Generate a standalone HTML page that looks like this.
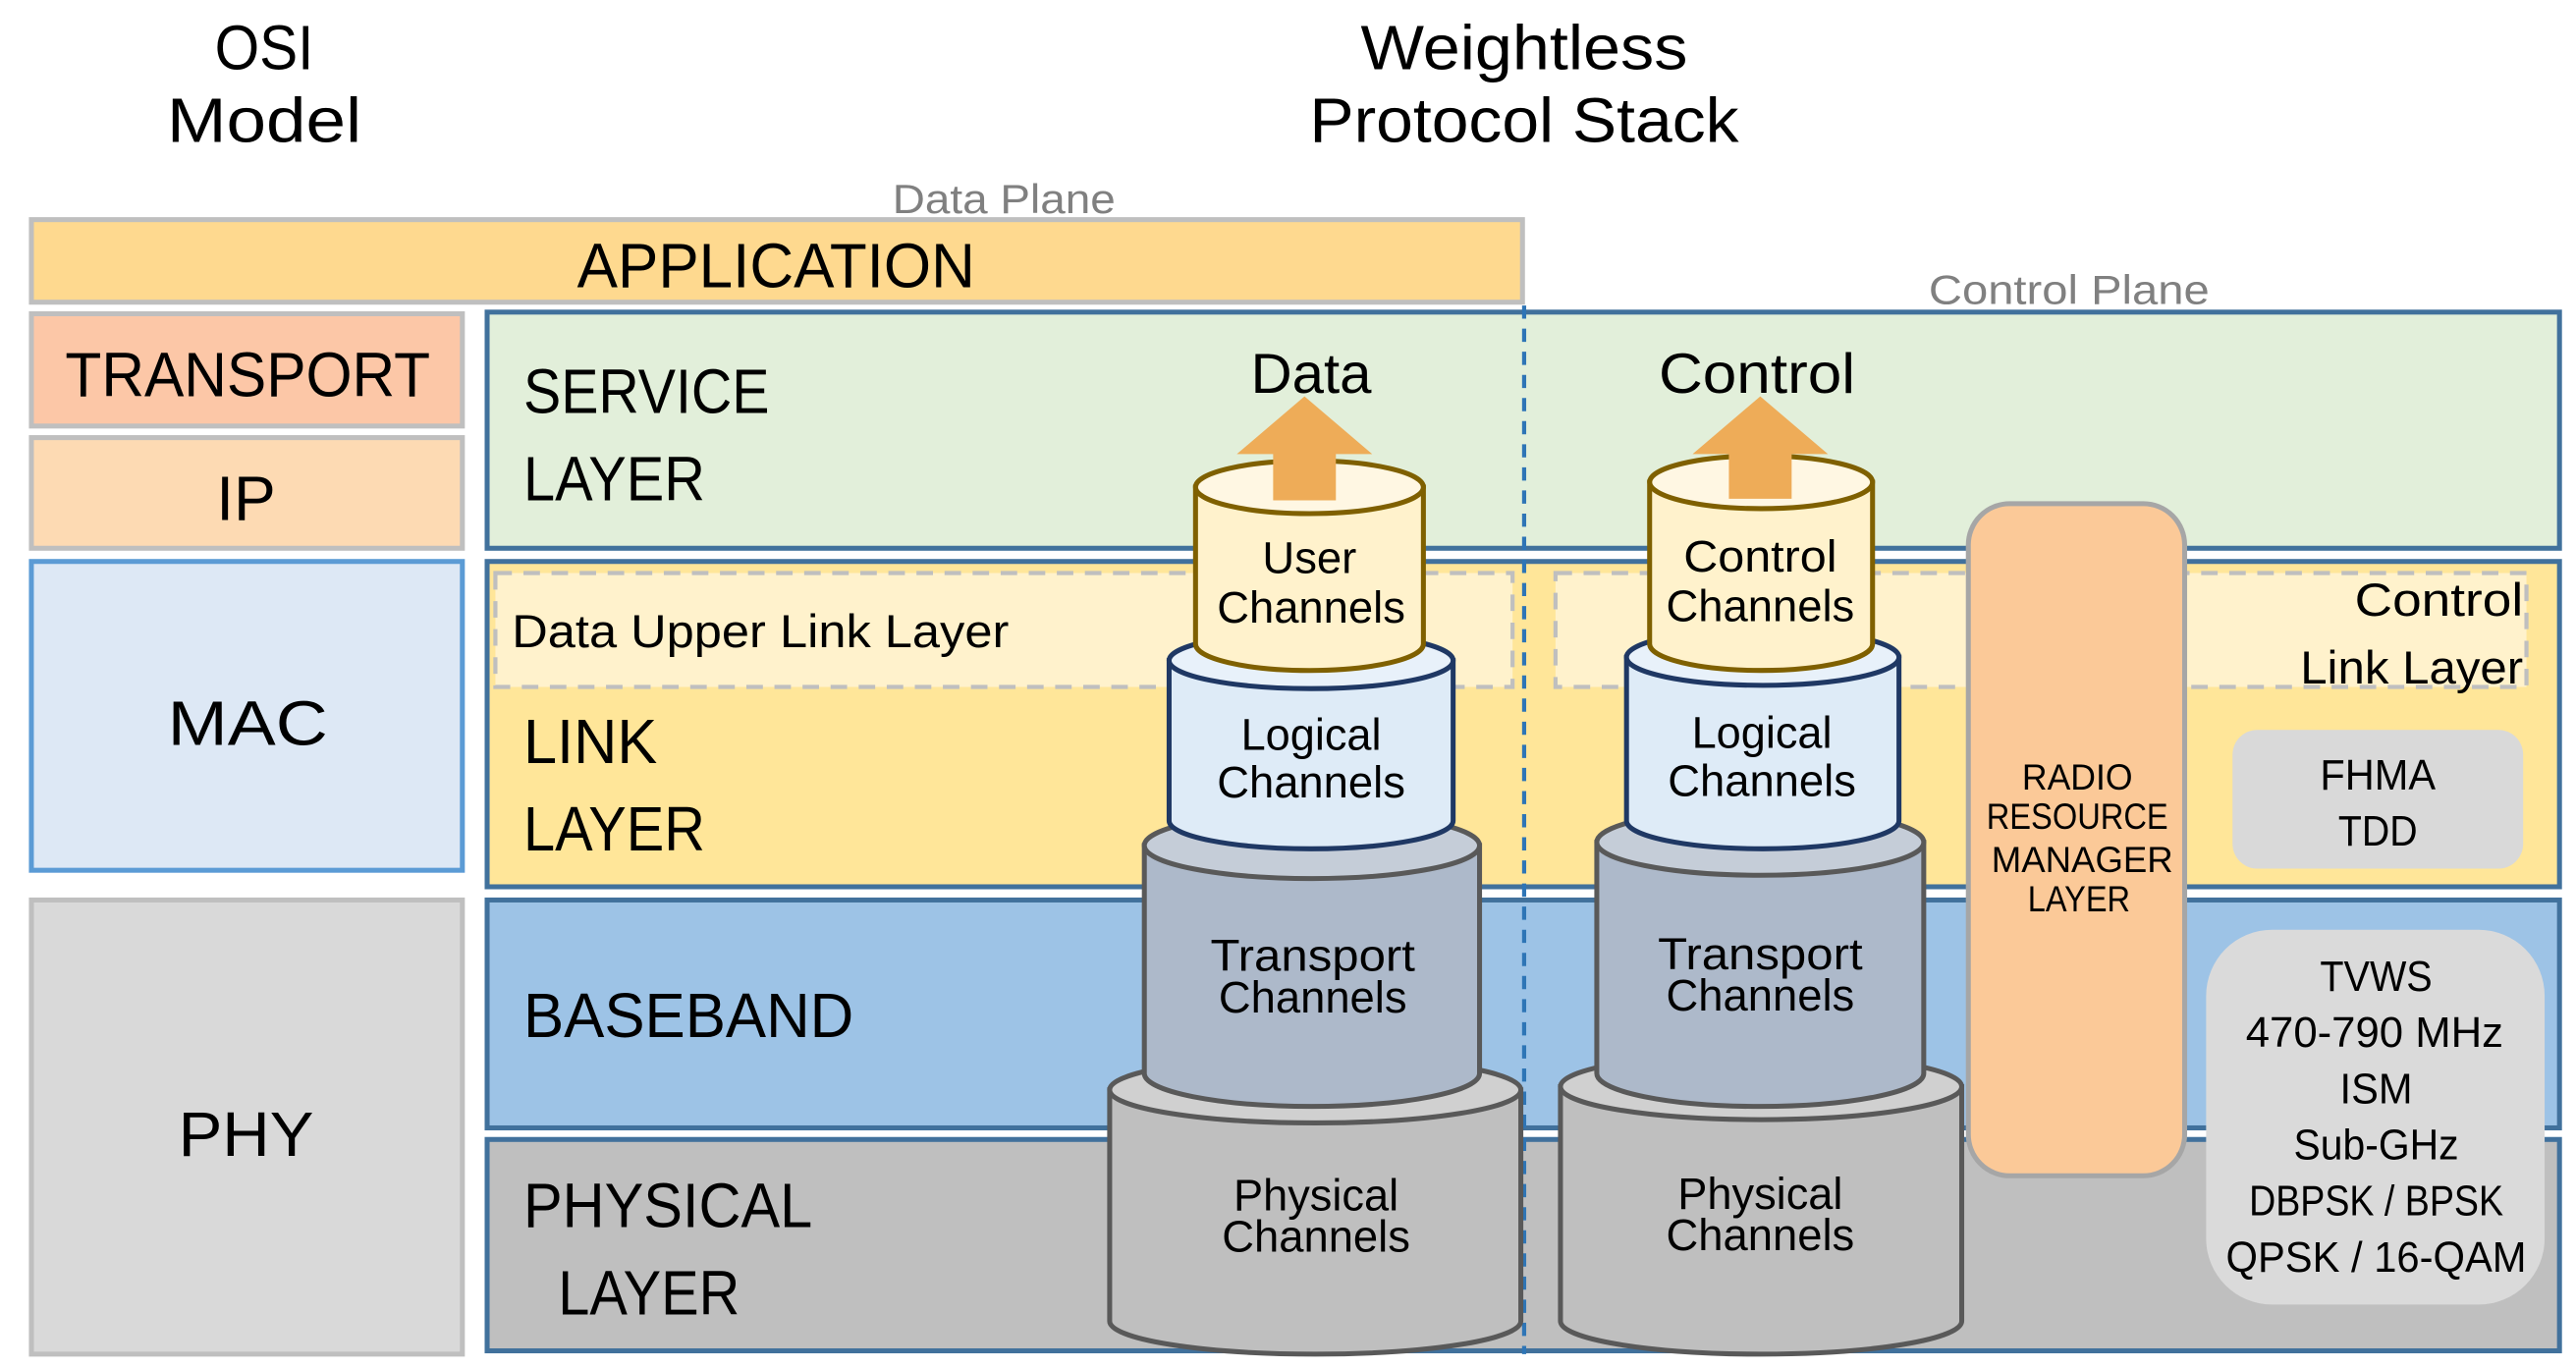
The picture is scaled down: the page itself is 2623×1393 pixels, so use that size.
<!DOCTYPE html>
<html><head><meta charset="utf-8"><style>html,body{margin:0;padding:0;background:#fff}svg{display:block}</style></head>
<body>
<svg width="2623" height="1393" viewBox="0 0 1560 828.4" preserveAspectRatio="none" xmlns="http://www.w3.org/2000/svg" font-family="'Liberation Sans Narrow','Liberation Sans',sans-serif" fill="#000">
<g font-size="38">
<text x="160" y="42" text-anchor="middle" textLength="60" lengthAdjust="spacingAndGlyphs">OSI</text>
<text x="160" y="86" text-anchor="middle" textLength="118" lengthAdjust="spacingAndGlyphs">Model</text>
<text x="923" y="42" text-anchor="middle" textLength="198" lengthAdjust="spacingAndGlyphs">Weightless</text>
<text x="923" y="86" text-anchor="middle" textLength="260" lengthAdjust="spacingAndGlyphs">Protocol Stack</text>
</g>
<text x="608" y="129" text-anchor="middle" font-size="25" fill="#808080" textLength="135" lengthAdjust="spacingAndGlyphs">Data Plane</text>
<text x="1253" y="184" text-anchor="middle" font-size="25" fill="#808080" textLength="170" lengthAdjust="spacingAndGlyphs">Control Plane</text>

<!-- OSI column -->
<rect x="19" y="133" width="903" height="50" fill="#fed98f" stroke="#bfbfbf" stroke-width="3"/>
<rect x="19" y="190" width="261" height="68" fill="#fcc7a7" stroke="#bfbfbf" stroke-width="3"/>
<rect x="19" y="265" width="261" height="67" fill="#fddab3" stroke="#bfbfbf" stroke-width="3"/>
<rect x="19" y="340" width="261" height="187" fill="#dde8f5" stroke="#5b9bd5" stroke-width="3"/>
<rect x="19" y="545" width="261" height="275" fill="#d9d9d9" stroke="#bfbfbf" stroke-width="3"/>
<g font-size="38">
<text x="470" y="174" text-anchor="middle" textLength="241" lengthAdjust="spacingAndGlyphs">APPLICATION</text>
<text x="150" y="240" text-anchor="middle" textLength="221" lengthAdjust="spacingAndGlyphs">TRANSPORT</text>
<text x="149" y="315" text-anchor="middle" textLength="36" lengthAdjust="spacingAndGlyphs">IP</text>
<text x="150" y="451" text-anchor="middle" textLength="97" lengthAdjust="spacingAndGlyphs">MAC</text>
<text x="149" y="700" text-anchor="middle" textLength="82" lengthAdjust="spacingAndGlyphs">PHY</text>
</g>

<!-- Layers -->
<rect x="295" y="189" width="1255" height="143" fill="#e2efda" stroke="#41719c" stroke-width="3"/>
<rect x="295" y="340" width="1255" height="197" fill="#ffe699" stroke="#41719c" stroke-width="3"/>
<rect x="295" y="545" width="1255" height="138" fill="#9dc3e6" stroke="#41719c" stroke-width="3"/>
<rect x="295" y="690" width="1255" height="128" fill="#bfbfbf" stroke="#41719c" stroke-width="3"/>
<rect x="300" y="347" width="616" height="69" fill="#fff2cc" stroke="#bfbfbf" stroke-width="2.5" stroke-dasharray="10,7"/>
<rect x="942" y="347" width="588" height="69" fill="#fff2cc" stroke="#bfbfbf" stroke-width="2.5" stroke-dasharray="10,7"/>
<g font-size="38">
<text x="317" y="250" textLength="149" lengthAdjust="spacingAndGlyphs">SERVICE</text>
<text x="317" y="303" textLength="110" lengthAdjust="spacingAndGlyphs">LAYER</text>
<text x="317" y="462" textLength="81" lengthAdjust="spacingAndGlyphs">LINK</text>
<text x="317" y="515" textLength="110" lengthAdjust="spacingAndGlyphs">LAYER</text>
<text x="317" y="628" textLength="200" lengthAdjust="spacingAndGlyphs">BASEBAND</text>
<text x="317" y="743" textLength="175" lengthAdjust="spacingAndGlyphs">PHYSICAL</text>
<text x="338" y="796" textLength="110" lengthAdjust="spacingAndGlyphs">LAYER</text>
</g>
<g font-size="28">
<text x="310" y="392" textLength="301" lengthAdjust="spacingAndGlyphs">Data Upper Link Layer</text>
<text x="1528" y="373" text-anchor="end" textLength="102" lengthAdjust="spacingAndGlyphs">Control</text>
<text x="1528" y="414" text-anchor="end" textLength="135" lengthAdjust="spacingAndGlyphs">Link Layer</text>
</g>
<line x1="923" y1="185" x2="923" y2="820" stroke="#2e75b6" stroke-width="2.5" stroke-dasharray="8,6"/>

<!-- side boxes -->
<rect x="1352" y="442" width="176" height="84" rx="15" fill="#d9d9d9"/>
<g font-size="26" text-anchor="middle">
<text x="1440" y="478" textLength="70" lengthAdjust="spacingAndGlyphs">FHMA</text>
<text x="1440" y="512" textLength="48" lengthAdjust="spacingAndGlyphs">TDD</text>
</g>
<rect x="1336" y="563" width="205" height="227" rx="40" fill="#dadada"/>
<g font-size="26" text-anchor="middle">
<text x="1439" y="600" textLength="68" lengthAdjust="spacingAndGlyphs">TVWS</text>
<text x="1438" y="634" textLength="156" lengthAdjust="spacingAndGlyphs">470-790 MHz</text>
<text x="1439" y="668" textLength="44" lengthAdjust="spacingAndGlyphs">ISM</text>
<text x="1439" y="702" textLength="100" lengthAdjust="spacingAndGlyphs">Sub-GHz</text>
<text x="1439" y="736" textLength="154" lengthAdjust="spacingAndGlyphs">DBPSK / BPSK</text>
<text x="1439" y="770" textLength="182" lengthAdjust="spacingAndGlyphs">QPSK / 16-QAM</text>
</g>
<rect x="1192" y="305" width="131" height="407" rx="25" fill="#fbc998" stroke="#a6a6a6" stroke-width="3"/>
<g font-size="22" text-anchor="middle">
<text x="1258" y="478" textLength="67" lengthAdjust="spacingAndGlyphs">RADIO</text>
<text x="1258" y="502" textLength="110" lengthAdjust="spacingAndGlyphs">RESOURCE</text>
<text x="1261" y="528" textLength="110" lengthAdjust="spacingAndGlyphs">MANAGER</text>
<text x="1259" y="552" textLength="62" lengthAdjust="spacingAndGlyphs">LAYER</text>
</g>

<!-- Left stack -->
<g stroke-width="3">
<path d="M672,660 L672,800 A124.5,20 0 0 0 921,800 L921,660 Z" fill="#bfbfbf" stroke="#595959"/>
<ellipse cx="796.5" cy="660" rx="124.5" ry="20" fill="#d0d0d0" stroke="#595959"/>
<path d="M693,512 L693,650 A101.5,20 0 0 0 896,650 L896,512 Z" fill="#adb9ca" stroke="#595959"/>
<ellipse cx="794.5" cy="512" rx="101.5" ry="20" fill="#c5cdd8" stroke="#595959"/>
<path d="M708,400 L708,497 A86,17 0 0 0 880,497 L880,400 Z" fill="#deebf7" stroke="#1f3864"/>
<ellipse cx="794" cy="400" rx="86" ry="17" fill="#e8f1fa" stroke="#1f3864"/>
<path d="M724,295 L724,390 A69,16 0 0 0 862,390 L862,295 Z" fill="#fff2cc" stroke="#7f6000"/>
<ellipse cx="793" cy="295" rx="69" ry="16" fill="#fff7e3" stroke="#7f6000"/>
</g>
<path d="M771,303 L771,275 L749,275 L790,240 L831,275 L809,275 L809,303 Z" fill="#eeac58"/>
<!-- Right stack -->
<g stroke-width="3">
<path d="M945,658 L945,800 A121.5,20 0 0 0 1188,800 L1188,658 Z" fill="#bfbfbf" stroke="#595959"/>
<ellipse cx="1066.5" cy="658" rx="121.5" ry="20" fill="#d0d0d0" stroke="#595959"/>
<path d="M967,510 L967,650 A99,20 0 0 0 1165,650 L1165,510 Z" fill="#adb9ca" stroke="#595959"/>
<ellipse cx="1066" cy="510" rx="99" ry="20" fill="#c5cdd8" stroke="#595959"/>
<path d="M985,398 L985,497 A82.5,17 0 0 0 1150,497 L1150,398 Z" fill="#deebf7" stroke="#1f3864"/>
<ellipse cx="1067.5" cy="398" rx="82.5" ry="17" fill="#e8f1fa" stroke="#1f3864"/>
<path d="M999,292 L999,390 A67.5,16 0 0 0 1134,390 L1134,292 Z" fill="#fff2cc" stroke="#7f6000"/>
<ellipse cx="1066.5" cy="292" rx="67.5" ry="16" fill="#fff7e3" stroke="#7f6000"/>
</g>
<path d="M1047,302 L1047,275 L1025,275 L1066,240 L1107,275 L1085,275 L1085,302 Z" fill="#eeac58"/>

<g font-size="34" text-anchor="middle">
<text x="794" y="238" textLength="73" lengthAdjust="spacingAndGlyphs">Data</text>
<text x="1064" y="238" textLength="119" lengthAdjust="spacingAndGlyphs">Control</text>
</g>
<g font-size="27" text-anchor="middle">
<text x="793" y="347" textLength="57" lengthAdjust="spacingAndGlyphs">User</text>
<text x="794" y="377" textLength="114" lengthAdjust="spacingAndGlyphs">Channels</text>
<text x="794" y="454" textLength="85" lengthAdjust="spacingAndGlyphs">Logical</text>
<text x="794" y="483" textLength="114" lengthAdjust="spacingAndGlyphs">Channels</text>
<text x="795" y="588" textLength="124" lengthAdjust="spacingAndGlyphs">Transport</text>
<text x="795" y="613" textLength="114" lengthAdjust="spacingAndGlyphs">Channels</text>
<text x="797" y="733" textLength="100" lengthAdjust="spacingAndGlyphs">Physical</text>
<text x="797" y="758" textLength="114" lengthAdjust="spacingAndGlyphs">Channels</text>
<text x="1066" y="346" textLength="93" lengthAdjust="spacingAndGlyphs">Control</text>
<text x="1066" y="376" textLength="114" lengthAdjust="spacingAndGlyphs">Channels</text>
<text x="1067" y="453" textLength="85" lengthAdjust="spacingAndGlyphs">Logical</text>
<text x="1067" y="482" textLength="114" lengthAdjust="spacingAndGlyphs">Channels</text>
<text x="1066" y="587" textLength="124" lengthAdjust="spacingAndGlyphs">Transport</text>
<text x="1066" y="612" textLength="114" lengthAdjust="spacingAndGlyphs">Channels</text>
<text x="1066" y="732" textLength="100" lengthAdjust="spacingAndGlyphs">Physical</text>
<text x="1066" y="757" textLength="114" lengthAdjust="spacingAndGlyphs">Channels</text>
</g>
</svg>
</body></html>
